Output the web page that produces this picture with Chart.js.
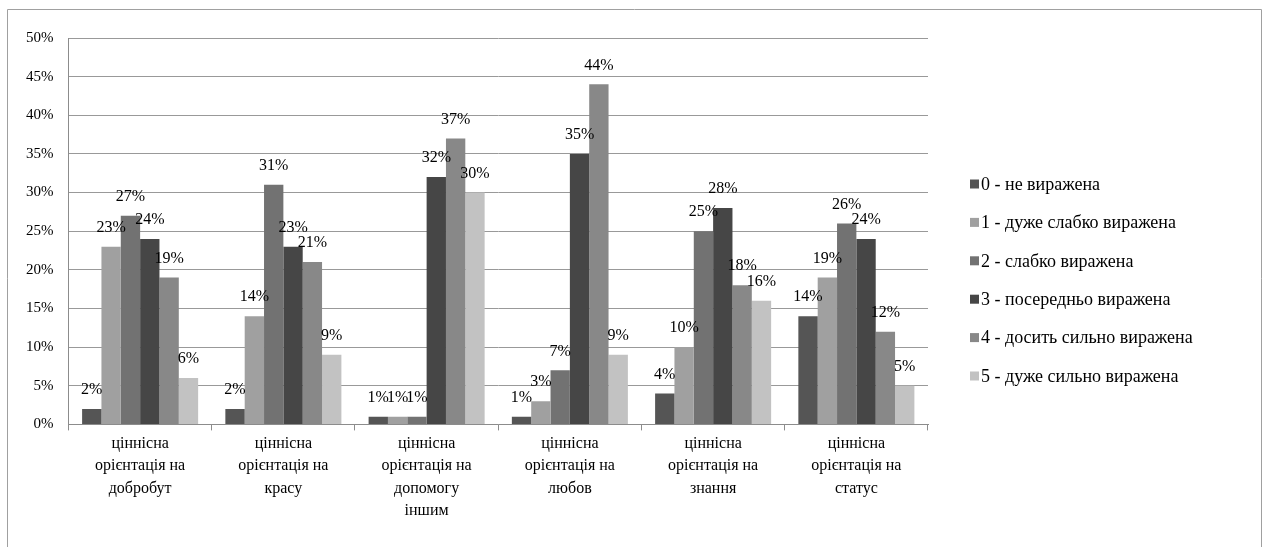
<!DOCTYPE html>
<html lang="uk">
<head>
  <meta charset="UTF-8">
  <title>Ціннісні орієнтації</title>
  <script src="https://cdn.jsdelivr.net/npm/chart.js"></script>
  <style>
    html, body { margin: 0; padding: 0; background: #fff; }
    #wrap { width: 1265px; height: 547px; }
  </style>
</head>
<body>
  <div id="wrap"><canvas id="chart0"></canvas></div>

  <script>
    /* Categories and series (values in %). */
    const categories = [
      ["ціннісна", "орієнтація на", "добробут"],
      ["ціннісна", "орієнтація на", "красу"],
      ["ціннісна", "орієнтація на", "допомогу", "іншим"],
      ["ціннісна", "орієнтація на", "любов"],
      ["ціннісна", "орієнтація на", "знання"],
      ["ціннісна", "орієнтація на", "статус"]
    ]
    const seriesNames = [
      "0 - не виражена",
      "1 - дуже слабко виражена",
      "2 - слабко виражена",
      "3 - посередньо виражена",
      "4 - досить сильно виражена",
      "5 - дуже сильно виражена"
    ]
    const level0 = [2, 2, 1, 1, 4, 14]
    const level1 = [23, 14, 1, 3, 10, 19]
    const level2 = [27, 31, 1, 7, 25, 26]
    const level3 = [24, 23, 32, 35, 28, 24]
    const level4 = [19, 21, 37, 44, 18, 12]
    const level5 = [6, 9, 30, 9, 16, 5]
    const colors = ["#555555", "#a0a0a0", "#727272", "#464646", "#888888", "#c2c2c2"]

    const serif = "'Liberation Serif', 'Times New Roman', serif"
    const series = [level0, level1, level2, level3, level4, level5]

    /* Grey frame round the whole chart (no bottom edge). */
    const framePlugin = {
      id: "frame",
      beforeDraw(chart) {
        const ctx = chart.ctx
        ctx.save()
        ctx.strokeStyle = "#a0a0a0"
        ctx.lineWidth = 1
        ctx.beginPath()
        ctx.moveTo(7.5, 547)
        ctx.lineTo(7.5, 9.5)
        ctx.lineTo(1261.5, 9.5)
        ctx.lineTo(1261.5, 547)
        ctx.stroke()
        ctx.restore()
      }
    }

    /* Value labels above each bar. */
    const valueLabels = {
      id: "valueLabels",
      afterDatasetsDraw(chart) {
        const ctx = chart.ctx
        ctx.save()
        ctx.font = "16px " + serif
        ctx.fillStyle = "#000"
        ctx.textAlign = "center"
        ctx.textBaseline = "middle"
        chart.data.datasets.forEach((ds, i) => {
          chart.getDatasetMeta(i).data.forEach((bar, j) => {
            ctx.fillText(ds.data[j] + "%", bar.x, bar.y - 19)
          })
        })
        ctx.restore()
      }
    }

    /* Legend on the right, Excel style. */
    const sideLegend = {
      id: "sideLegend",
      afterDraw(chart) {
        const ctx = chart.ctx
        ctx.save()
        ctx.font = "18px " + serif
        ctx.textBaseline = "middle"
        chart.data.datasets.forEach((ds, i) => {
          const y = 184 + i * 38.4
          ctx.fillStyle = ds.backgroundColor
          ctx.fillRect(970, y - 4.5, 9, 9)
          ctx.fillStyle = "#000"
          ctx.fillText(ds.label, 981, y + 1)
        })
        ctx.restore()
      }
    }

    const ctx0 = document.getElementById("chart0").getContext("2d")
    const myChart0 = new Chart(ctx0, {
      type: "bar",
      data: {
        labels: categories,
        datasets: series.map((values, i) => ({
          label: seriesNames[i],
          data: values,
          backgroundColor: colors[i],
          borderWidth: 0,
          barPercentage: 1,
          categoryPercentage: 0.81
        }))
      },
      options: {
        responsive: true,
        maintainAspectRatio: false,
        animation: false,
        layout: {
          padding: { left: 11, right: 337, top: 38, bottom: 23 }
        },
        plugins: {
          legend: { display: false },
          tooltip: { enabled: false }
        },
        scales: {
          x: {
            grid: {
              drawOnChartArea: false,
              drawTicks: true,
              tickLength: 6,
              color: "#8c8c8c",
              offset: true
            },
            border: { display: true, color: "#8c8c8c" },
            ticks: {
              color: "#000",
              padding: 2,
              maxRotation: 0,
              autoSkip: false,
              font: { family: serif, size: 16, lineHeight: 1.4 }
            }
          },
          y: {
            min: 0,
            max: 50,
            grid: { color: "#999999", drawTicks: false },
            border: { display: true, color: "#8c8c8c" },
            ticks: {
              stepSize: 5,
              color: "#000",
              padding: 15,
              font: { family: serif, size: 15 },
              callback: v => v + "%"
            }
          }
        }
      },
      plugins: [framePlugin, valueLabels, sideLegend]
    })
  </script>
</body>
</html>
